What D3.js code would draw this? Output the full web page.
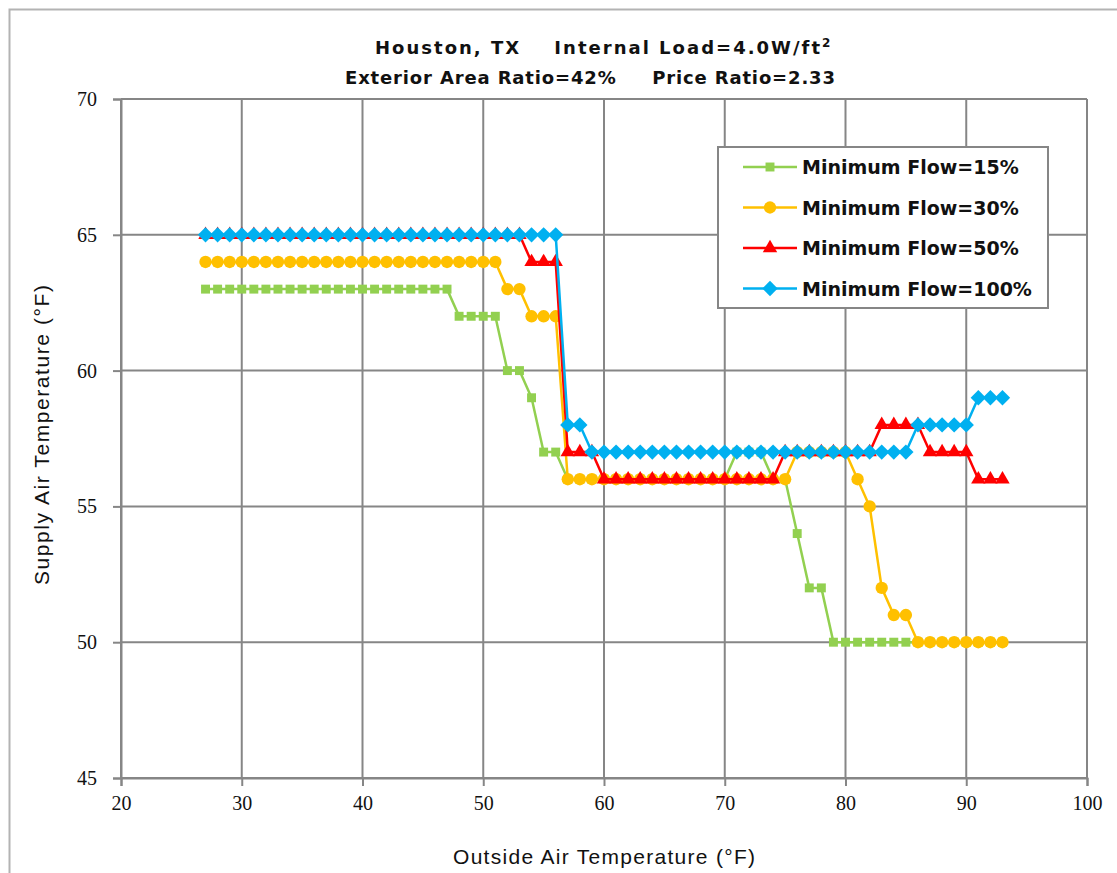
<!DOCTYPE html>
<html>
<head>
<meta charset="utf-8">
<script src="https://cdn.jsdelivr.net/npm/d3@7"></script>
<style>
  body { margin: 0; background: #fff; }
  text { font-family: "DejaVu Sans", sans-serif; }
</style>
</head>
<body>
<div id="main"></div>
<script>
const w = 1117, h = 873
const margin = {left: 121, top: 99, right: 30, bottom: 95}

// outside air temperature (F)
const oat = [27, 28, 29, 30, 31, 32, 33, 34, 35, 36, 37, 38, 39, 40, 41, 42, 43, 44, 45, 46,
             47, 48, 49, 50, 51, 52, 53, 54, 55, 56, 57, 58, 59, 60, 61, 62, 63, 64, 65, 66,
             67, 68, 69, 70, 71, 72, 73, 74, 75, 76, 77, 78, 79, 80, 81, 82, 83, 84, 85, 86,
             87, 88, 89, 90, 91, 92, 93]

// supply air temperature (F) per minimum flow setting
const flow15 = [63, 63, 63, 63, 63, 63, 63, 63, 63, 63, 63, 63, 63, 63, 63, 63, 63, 63, 63, 63,
                63, 62, 62, 62, 62, 60, 60, 59, 57, 57, 56, 56, 56, 56, 56, 56, 56, 56, 56, 56,
                56, 56, 56, 56, 57, 57, 57, 56, 56, 54, 52, 52, 50, 50, 50, 50, 50, 50, 50, 50,
                50, 50, 50, 50, 50, 50, 50]
const flow30 = [64, 64, 64, 64, 64, 64, 64, 64, 64, 64, 64, 64, 64, 64, 64, 64, 64, 64, 64, 64,
                64, 64, 64, 64, 64, 63, 63, 62, 62, 62, 56, 56, 56, 56, 56, 56, 56, 56, 56, 56,
                56, 56, 56, 56, 56, 56, 56, 56, 56, 57, 57, 57, 57, 57, 56, 55, 52, 51, 51, 50,
                50, 50, 50, 50, 50, 50, 50]
const flow50 = [65, 65, 65, 65, 65, 65, 65, 65, 65, 65, 65, 65, 65, 65, 65, 65, 65, 65, 65, 65,
                65, 65, 65, 65, 65, 65, 65, 64, 64, 64, 57, 57, 57, 56, 56, 56, 56, 56, 56, 56,
                56, 56, 56, 56, 56, 56, 56, 56, 57, 57, 57, 57, 57, 57, 57, 57, 58, 58, 58, 58,
                57, 57, 57, 57, 56, 56, 56]
const flow100 = [65, 65, 65, 65, 65, 65, 65, 65, 65, 65, 65, 65, 65, 65, 65, 65, 65, 65, 65, 65,
                 65, 65, 65, 65, 65, 65, 65, 65, 65, 65, 58, 58, 57, 57, 57, 57, 57, 57, 57, 57,
                 57, 57, 57, 57, 57, 57, 57, 57, 57, 57, 57, 57, 57, 57, 57, 57, 57, 57, 57, 58,
                 58, 58, 58, 58, 59, 59, 59]

const seriesNames = ['Minimum Flow=15%', 'Minimum Flow=30%', 'Minimum Flow=50%', 'Minimum Flow=100%']
const seriesColors = ['#92d050', '#ffc000', '#ff0000', '#00b0f0']
const seriesSymbols = [d3.symbolSquare, d3.symbolCircle, d3.symbolTriangle, d3.symbolDiamond2]
const symbolSizes = [80, 120, 90, 150]
const xTicks = [20, 30, 40, 50, 60, 70, 80, 90, 100]
const yTicks = [45, 50, 55, 60, 65, 70]

const series = [flow15, flow30, flow50, flow100].map((vals, i) => ({
    name: seriesNames[i],
    color: seriesColors[i],
    symbol: seriesSymbols[i],
    size: symbolSizes[i],
    points: vals.map((v, j) => ({x: oat[j], y: v}))
}))

const svg = d3.select('#main')
            .append('svg')
            .attr('width', w)
            .attr('height', h)

// chart border
svg.append('rect')
    .attr('x', 9.5)
    .attr('y', 9.5)
    .attr('width', w + 20)
    .attr('height', h + 20)
    .attr('fill', '#fff')
    .attr('stroke', '#b3b3b3')
    .attr('stroke-width', 2)

const xScale = d3.scaleLinear()
                .domain([20, 100])
                .range([margin.left, 1087])

const yScale = d3.scaleLinear()
                .domain([45, 70])
                .range([778, margin.top])

// gridlines
svg.append('g')
    .selectAll('line')
    .data(xTicks)
    .enter()
    .append('line')
    .attr('x1', d => xScale(d))
    .attr('x2', d => xScale(d))
    .attr('y1', yScale(45))
    .attr('y2', yScale(70))
    .attr('stroke', '#868686')
    .attr('stroke-width', 2)

svg.append('g')
    .selectAll('line')
    .data(yTicks)
    .enter()
    .append('line')
    .attr('x1', xScale(20))
    .attr('x2', xScale(100))
    .attr('y1', d => yScale(d))
    .attr('y2', d => yScale(d))
    .attr('stroke', '#868686')
    .attr('stroke-width', 2)

const xAxis = d3.axisBottom(xScale)
                .tickValues(xTicks)
                .tickSize(8)
                .tickPadding(10)
                .tickFormat(d3.format('d'))
const yAxis = d3.axisLeft(yScale)
                .tickValues(yTicks)
                .tickSize(8)
                .tickPadding(16)
                .tickFormat(d3.format('d'))

const gx = svg.append('g')
    .attr('transform', 'translate(0,' + yScale(45) + ')')
    .call(xAxis)
const gy = svg.append('g')
    .attr('transform', 'translate(' + xScale(20) + ',0)')
    .call(yAxis)

for (const g of [gx, gy]) {
    g.selectAll('path, line').attr('stroke', '#868686').attr('stroke-width', 2)
    g.selectAll('text')
        .style('font-family', '"Liberation Serif", serif')
        .style('font-size', '20px')
        .attr('fill', '#111')
}

// series
const line = d3.line().x(d => xScale(d.x)).y(d => yScale(d.y))

series.forEach(s => {
    svg.append('path')
        .datum(s.points)
        .attr('d', line)
        .attr('fill', 'none')
        .attr('stroke', s.color)
        .attr('stroke-width', 2.5)
        .attr('stroke-linejoin', 'round')

    svg.append('g')
        .selectAll('path')
        .data(s.points)
        .enter()
        .append('path')
        .attr('transform', d => 'translate(' + xScale(d.x) + ',' + yScale(d.y) + ')')
        .attr('d', d3.symbol(s.symbol, s.size))
        .attr('fill', s.color)
})

// title
const title = svg.append('text')
    .attr('x', 375)
    .attr('y', 54)
    .style('font-size', '18px')
    .style('font-weight', 'bold')
    .attr('fill', '#111')
title.append('tspan')
    .text('Houston, TX\u00a0\u00a0\u00a0\u00a0Internal Load=4.0W/ft')
    .attr('textLength', 445)
    .attr('lengthAdjust', 'spacing')
title.append('tspan').text('2').attr('dy', -7).style('font-size', '12px')

svg.append('text')
    .text('Exterior Area Ratio=42%\u00a0\u00a0\u00a0\u00a0\u00a0Price Ratio=2.33')
    .attr('x', 345)
    .attr('y', 84)
    .attr('textLength', 490)
    .attr('lengthAdjust', 'spacing')
    .style('font-size', '18px')
    .style('font-weight', 'bold')
    .attr('fill', '#111')

// axis titles
svg.append('text')
    .text('Outside Air Temperature (\u00b0F)')
    .attr('x', 453)
    .attr('y', 864)
    .attr('textLength', 302)
    .attr('lengthAdjust', 'spacing')
    .style('font-family', '"Liberation Sans", sans-serif')
    .style('font-size', '21px')
    .attr('fill', '#111')

svg.append('text')
    .text('Supply Air Temperature (\u00b0F)')
    .attr('transform', 'translate(49,585) rotate(-90)')
    .attr('textLength', 300)
    .attr('lengthAdjust', 'spacing')
    .style('font-family', '"Liberation Sans", sans-serif')
    .style('font-size', '21px')
    .attr('fill', '#111')

// legend
const legend = svg.append('g').attr('id', 'legend')
legend.append('rect')
    .attr('x', 718)
    .attr('y', 147)
    .attr('width', 330)
    .attr('height', 161)
    .attr('fill', '#fff')
    .attr('stroke', '#868686')
    .attr('stroke-width', 2)

series.forEach((s, i) => {
    const y = 167 + i * 40.5
    legend.append('line')
        .attr('x1', 743)
        .attr('x2', 797)
        .attr('y1', y)
        .attr('y2', y)
        .attr('stroke', s.color)
        .attr('stroke-width', 2.5)
    legend.append('path')
        .attr('transform', 'translate(770,' + y + ')')
        .attr('d', d3.symbol(s.symbol, s.size))
        .attr('fill', s.color)
    legend.append('text')
        .text(s.name)
        .attr('x', 802)
        .attr('y', y)
        .attr('dominant-baseline', 'central')
        .style('font-size', '19px')
        .style('font-weight', 'bold')
        .attr('fill', '#111')
})
</script>
</body>
</html>
